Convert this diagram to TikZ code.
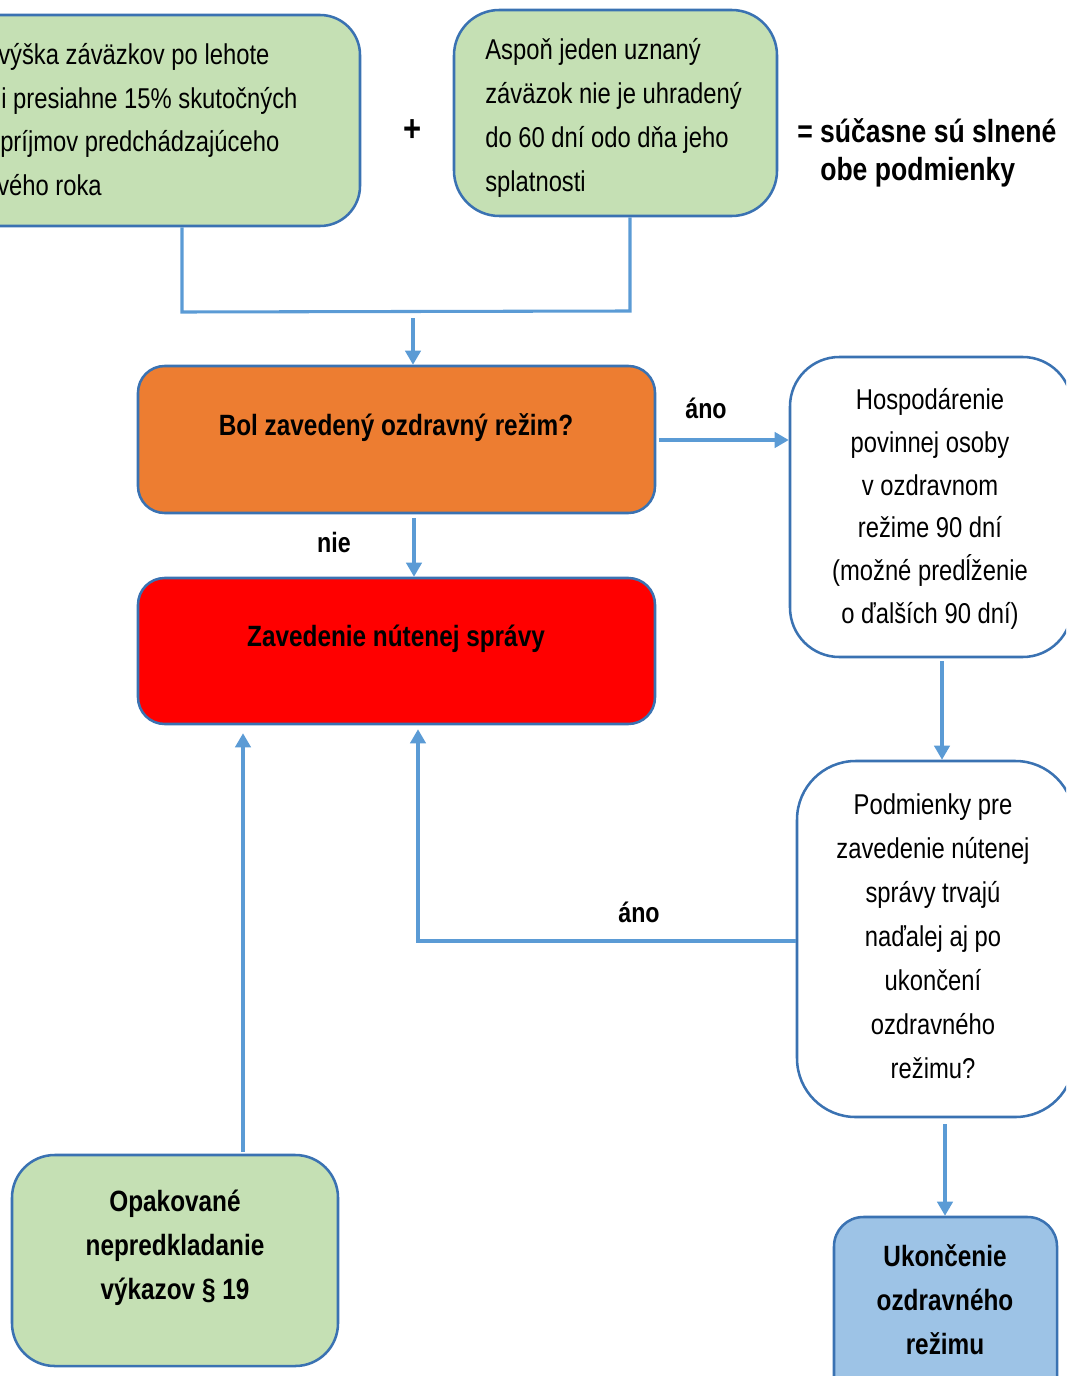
\documentclass[tikz,border=0pt]{standalone}
\usepackage{fontspec}
\setmainfont{Liberation Sans}[FakeStretch=0.83]
\usetikzlibrary{arrows.meta,fit}
\definecolor{bordc}{RGB}{58,114,178}
\definecolor{linec}{RGB}{91,155,213}
\definecolor{greenf}{RGB}{197,224,180}
\definecolor{orangef}{RGB}{237,125,49}
\definecolor{redf}{RGB}{255,0,0}
\definecolor{bluef}{RGB}{157,195,230}
\tikzset{
  box/.style={draw=bordc, line width=1.9pt, inner sep=0pt},
  conn/.style={draw=linec, line width=2.3pt},
  arr/.style={conn, -{Triangle[width=11.5pt,length=10.5pt]}},
  regtxt/.style={font=\fontsize{21.5}{33}\selectfont, align=center, inner sep=0pt},
  boldtxt/.style={font=\bfseries\fontsize{22}{33}\selectfont, align=center, inner sep=0pt},
  lbl/.style={font=\bfseries\fontsize{21}{25}\selectfont, inner sep=0pt}
}
\begin{document}
\begin{tikzpicture}[x=0.75pt,y=-0.75pt]
\useasboundingbox (0,0) rectangle (1066,1376);
\clip (0,0) rectangle (1066,1376);
% boxes
\node[box, fill=greenf, rounded corners=30pt, fit={(-150,15) (360,226)}] (b1) {};
\node[box, fill=greenf, rounded corners=34pt, fit={(454,10) (777,216)}] (b2) {};
\node[box, fill=orangef, rounded corners=20pt, fit={(138,366) (655,513)}] (q1) {};
\node[box, fill=redf, rounded corners=20pt, fit={(138,578) (655,724)}] (rz) {};
\node[box, fill=white, rounded corners=37pt, fit={(790,357) (1072,657)}] (h1) {};
\node[box, fill=white, rounded corners=44pt, fit={(797,761) (1074,1117)}] (p1) {};
\node[box, fill=greenf, rounded corners=32pt, fit={(12,1155) (338,1366)}] (o1) {};
\node[box, fill=bluef, rounded corners=22pt, fit={(834,1217) (1057,1420)}] (u1) {};
% texts
\node[regtxt, anchor=mid west] (t1a) at (-2,61) {výška záväzkov po lehote};
\node[regtxt, anchor=mid west] (t1b) at (1,105) {i presiahne 15\% skutočných};
\node[regtxt, anchor=mid west] (t1c) at (0,148) {príjmov predchádzajúceho};
\node[regtxt, anchor=mid west] (t1d) at (-3,192) {vého roka};
\node[regtxt, align=left, anchor=north west] (t2) at (485,38) {Aspoň jeden uznaný\\záväzok nie je uhradený\\do 60 dní odo dňa jeho\\splatnosti};
\node[font=\bfseries\fontsize{28}{30}\selectfont, inner sep=0pt] (plus) at (413,131) {+};
\node[font=\bfseries\fontsize{24}{28}\selectfont, inner sep=0pt, anchor=mid west] (eq1) at (797,139) {= súčasne sú slnené};
\node[font=\bfseries\fontsize{24}{28}\selectfont, inner sep=0pt, anchor=mid west] (eq2) at (820,177) {obe podmienky};
\node[boldtxt] (tq) at (396,428) {Bol zavedený ozdravný režim?};
\node[boldtxt] (tr) at (396,639) {Zavedenie nútenej správy};
\node[font=\fontsize{21.5}{32}\selectfont, align=center, inner sep=0pt] (th) at (930,509) {Hospodárenie\\povinnej osoby\\v ozdravnom\\režime 90 dní\\(možné predĺženie\\o ďalších 90 dní)};
\node[regtxt] (tp) at (933,936) {Podmienky pre\\zavedenie nútenej\\správy trvajú\\naďalej aj po\\ukončení\\ozdravného\\režimu?};
\node[boldtxt] (to) at (175,1248) {Opakované\\nepredkladanie\\výkazov § 19};
\node[boldtxt] (tu) at (945,1300) {Ukončenie\\ozdravného\\režimu};
% connectors
\coordinate (jl) at (182,312);
\coordinate (jr) at (630,311);
\coordinate (jm) at (413,318);
\draw[conn] (b1.south -| jl) -- (jl) -- (jr) -- (b2.south -| jr);
\draw[arr] (jm) -- (q1.north -| jm);
\coordinate (ya) at (659,440);
\draw[arr] (ya) -- (h1.west |- ya);
\node[lbl] (la1) at (706,408) {áno};
\coordinate (xn) at (414,518);
\draw[arr] (xn) -- (rz.north -| xn);
\node[lbl] (ln) at (334,542) {nie};
\coordinate (xh) at (942,661);
\draw[arr] (xh) -- (p1.north -| xh);
\coordinate (ya2) at (418,941);
\draw[arr, shorten >=3pt] (p1.west |- ya2) -- (ya2) -- (ya2 |- rz.south);
\node[lbl] (la2) at (639,912) {áno};
\coordinate (xo) at (243,1152);
\draw[arr, shorten >=6pt] (xo) -- (xo |- rz.south);
\coordinate (xp) at (945,1124);
\draw[arr] (xp) -- (u1.north -| xp);
\end{tikzpicture}
\end{document}
